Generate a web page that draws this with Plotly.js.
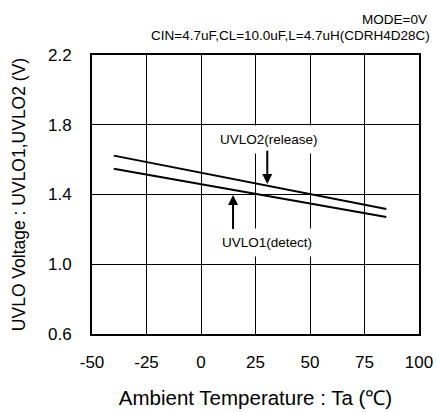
<!DOCTYPE html>
<html><head><meta charset="utf-8">
<script src="https://cdn.plot.ly/plotly-3.0.1.min.js"></script>
<style>html,body{margin:0;padding:0;background:#fff}#chart{width:436px;height:412px}</style>
</head><body><div id="chart"></div>
<script>
var temps = [-40, 85];
var uvlo2 = [1.623, 1.317];
var uvlo1 = [1.548, 1.271];
var xTicks = [-50, -25, 0, 25, 50, 75, 100];
var yTicks = [0.6, 1.0, 1.4, 1.8, 2.2];
var F = 'Liberation Sans, Arial, sans-serif';

var traces = [
  {x: temps, y: uvlo2, mode: 'lines', line: {color: '#000', width: 2}, name: 'UVLO2', showlegend: false},
  {x: temps, y: uvlo1, mode: 'lines', line: {color: '#000', width: 2}, name: 'UVLO1', showlegend: false}
];

var layout = {
  width: 436, height: 412,
  margin: {l: 92, r: 17, t: 55, b: 78},
  paper_bgcolor: '#fff', plot_bgcolor: '#fff',
  font: {family: F, color: '#000', size: 15},
  xaxis: {
    range: [-50, 100], tickvals: xTicks, ticktext: xTicks.map(String),
    showgrid: true, gridcolor: '#000', gridwidth: 1, zeroline: false,
    showline: true, linecolor: '#000', linewidth: 2, mirror: true,
    ticks: 'outside', ticklen: 12, tickcolor: 'rgba(0,0,0,0)',
    tickfont: {size: 17},
    title: {text: 'Ambient Temperature : Ta (℃)', font: {size: 20.5}, standoff: 19}
  },
  yaxis: {
    range: [0.6, 2.2], tickvals: yTicks, ticktext: yTicks.map(function(v){return v.toFixed(1);}),
    showgrid: true, gridcolor: '#000', gridwidth: 1, zeroline: false,
    showline: true, linecolor: '#000', linewidth: 2, mirror: true,
    ticks: 'outside', ticklen: 15, tickcolor: 'rgba(0,0,0,0)',
    tickfont: {size: 17},
    title: {text: 'UVLO Voltage : UVLO1,UVLO2 (V)', font: {size: 17.5}, standoff: 18}
  },
  annotations: [
    {xref: 'paper', yref: 'paper', x: 1.03, y: 1.126, xanchor: 'right', yanchor: 'middle',
     text: 'MODE=0V', showarrow: false, font: {size: 13.5}},
    {xref: 'paper', yref: 'paper', x: 1.04, y: 1.069, xanchor: 'right', yanchor: 'middle',
     text: 'CIN=4.7uF,CL=10.0uF,L=4.7uH(CDRH4D28C)', showarrow: false, font: {size: 13.5}},
    {x: 31.3, y: 1.713, xref: 'x', yref: 'y', text: 'UVLO2(release)', showarrow: false,
     font: {size: 13.5}, bgcolor: '#fff', borderpad: 6},
    {x: 30.1, y: 1.122, xref: 'x', yref: 'y', text: 'UVLO1(detect)', showarrow: false,
     font: {size: 13.5}, bgcolor: '#fff', borderpad: 6},
    {x: 30.4, y: 1.46, xref: 'x', yref: 'y', ax: 30.4, ay: 1.66, axref: 'x', ayref: 'y',
     text: '', showarrow: true, arrowhead: 2, arrowsize: 1, arrowwidth: 2, arrowcolor: '#000', standoff: 0},
    {x: 14.7, y: 1.397, xref: 'x', yref: 'y', ax: 14.7, ay: 1.193, axref: 'x', ayref: 'y',
     text: '', showarrow: true, arrowhead: 2, arrowsize: 1, arrowwidth: 2, arrowcolor: '#000', standoff: 0}
  ]
};
Plotly.newPlot('chart', traces, layout, {displayModeBar: false, staticPlot: true});
</script></body></html>
